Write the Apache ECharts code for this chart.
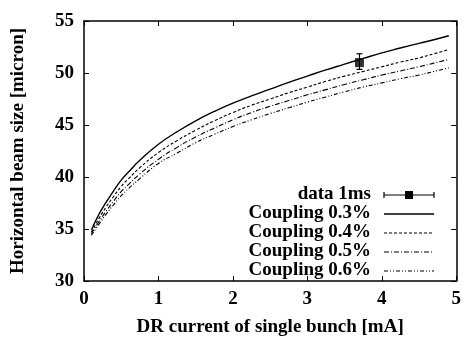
<!DOCTYPE html>
<html><head><meta charset="utf-8">
<script src="https://cdn.jsdelivr.net/npm/echarts@6/dist/echarts.min.js"></script>
<style>html,body{margin:0;padding:0;background:#fff}#c{width:464px;height:342px}</style>
</head><body><div id="c"></div>
<script>
const xs  = [0.1,0.2,0.3,0.4,0.5,0.6,0.75,1,1.25,1.5,1.75,2,2.25,2.5,2.75,3,3.25,3.5,3.75,4,4.25,4.5,4.7,4.9];
const c03 = [34.9,36.4,37.6,38.7,39.7,40.5,41.6,43.15,44.35,45.4,46.3,47.1,47.8,48.45,49.1,49.7,50.3,50.85,51.4,51.94,52.4,52.85,53.2,53.58];
const c04 = [34.7,36.0,37.15,38.15,39.1,39.85,40.9,42.35,43.5,44.5,45.4,46.2,46.9,47.5,48.1,48.65,49.2,49.7,50.15,50.6,51.05,51.45,51.85,52.25];
const c05 = [34.55,35.7,36.75,37.7,38.6,39.3,40.3,41.7,42.85,43.85,44.7,45.5,46.2,46.8,47.35,47.9,48.4,48.9,49.35,49.8,50.2,50.6,50.95,51.3];
const c06 = [34.4,35.45,36.45,37.35,38.2,38.9,39.85,41.3,42.3,43.3,44.1,44.85,45.5,46.1,46.65,47.2,47.7,48.2,48.65,49.05,49.45,49.8,50.15,50.5];
const dataX = [3.7];
const dataY = [51.0];
const dataLo = [50.35];
const dataHi = [51.85];
const names = ['data 1ms','Coupling 0.3%','Coupling 0.4%','Coupling 0.5%','Coupling 0.6%'];

const F = 'Liberation Serif, Times New Roman, serif';
const pair = (a) => xs.map((x,i)=>[x,a[i]]);
const dashes = [null, null, [3,2], [5,2,1,2], [4,2,1,2,1,2]];
const widths = [null, 1.4, 1.1, 1.1, 1.1];

const chart = echarts.init(document.getElementById('c'), null, {renderer:'canvas'});
const axisCommon = {
  axisLine:{show:true, onZero:false, lineStyle:{color:'#000', width:1.5}},
  axisTick:{show:true, inside:true, length:5, lineStyle:{color:'#000', width:1}},
  splitLine:{show:false}
};
const lineSeries = [c03,c04,c05,c06].map((arr,k)=>({
  type:'line', name:names[k+1], data:pair(arr), showSymbol:false, smooth:0.5,
  lineStyle:{color:'#000', width:widths[k+1], type: dashes[k+1] || 'solid'}, z:2
}));

// legend drawn as graphic
const legX = 371, legY0 = 195, legDY = 19, s0 = 384, s1 = 434;
const g = [];
names.forEach((n,i)=>{
  const y = legY0 + i*legDY;
  g.push({type:'text', right: 464-legX, top: y-10, style:{text:n, font:'bold 19px '+F, fill:'#000', textAlign:'right'}});
  if (i===0) {
    g.push({type:'line', shape:{x1:s0,y1:y,x2:s1,y2:y}, style:{stroke:'#000', lineWidth:1.2}});
    g.push({type:'line', shape:{x1:s0,y1:y-3,x2:s0,y2:y+3}, style:{stroke:'#000', lineWidth:1.2}});
    g.push({type:'line', shape:{x1:s1,y1:y-3,x2:s1,y2:y+3}, style:{stroke:'#000', lineWidth:1.2}});
    g.push({type:'rect', shape:{x:409-4,y:y-4,width:8,height:8}, style:{fill:'#000'}});
  } else {
    g.push({type:'line', shape:{x1:s0,y1:y,x2:s1,y2:y}, style:{stroke:'#000', lineWidth:widths[i], lineDash: dashes[i]}});
  }
});

chart.setOption({
  animation:false,
  grid:{left:84, right:7, top:21, bottom:57},
  xAxis:[
    Object.assign({type:'value', min:0, max:5, interval:1, position:'bottom',
      axisLabel:{color:'#000', fontFamily:F, fontWeight:'bold', fontSize:19, margin:9},
      name:'DR current of single bunch [mA]', nameLocation:'middle', nameGap:37,
      nameTextStyle:{color:'#000', fontFamily:F, fontWeight:'bold', fontSize:19}}, axisCommon),
    Object.assign({type:'value', min:0, max:5, interval:1, position:'top', axisLabel:{show:false}}, axisCommon)
  ],
  yAxis:[
    Object.assign({type:'value', min:30, max:55, interval:5, position:'left',
      axisLabel:{color:'#000', fontFamily:F, fontWeight:'bold', fontSize:19, margin:10},
      name:'Horizontal beam size [micron]', nameLocation:'middle', nameGap:56,
      nameTextStyle:{color:'#000', fontFamily:F, fontWeight:'bold', fontSize:19}}, axisCommon),
    Object.assign({type:'value', min:30, max:55, interval:5, position:'right', axisLabel:{show:false}}, axisCommon)
  ],
  series: lineSeries.concat([
    {type:'custom', name:'err', data: dataX.map((x,i)=>[x,dataLo[i],dataHi[i]]),
      renderItem:(p,api)=>{
        const lo = api.coord([api.value(0), api.value(1)]);
        const hi = api.coord([api.value(0), api.value(2)]);
        return {type:'group', children:[
          {type:'line', shape:{x1:lo[0],y1:lo[1],x2:hi[0],y2:hi[1]}, style:{stroke:'#000', lineWidth:1.2}},
          {type:'line', shape:{x1:lo[0]-3,y1:lo[1],x2:lo[0]+3,y2:lo[1]}, style:{stroke:'#000', lineWidth:1.2}},
          {type:'line', shape:{x1:hi[0]-3,y1:hi[1],x2:hi[0]+3,y2:hi[1]}, style:{stroke:'#000', lineWidth:1.2}}
        ]};
      }, z:3},
    {type:'scatter', name:names[0], data: dataX.map((x,i)=>[x,dataY[i]]), symbol:'rect', symbolSize:9,
      itemStyle:{color:'#000'}, z:4}
  ]),
  graphic: g
});
</script></body></html>
